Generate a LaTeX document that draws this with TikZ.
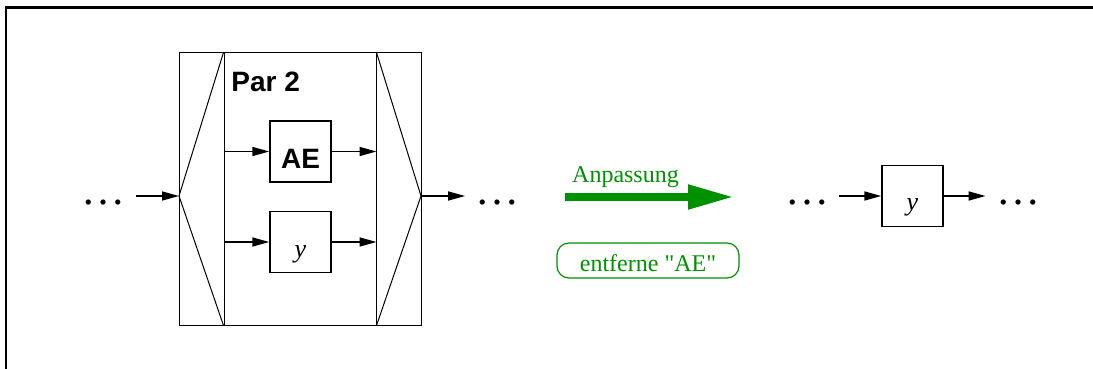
\documentclass[tikz,border=0pt]{standalone}
\usepackage{fontspec}
\setmainfont{Liberation Serif}
\setsansfont{Liberation Sans}
\usepackage{tikz}
\usetikzlibrary{arrows.meta,positioning,calc}
\definecolor{anpass}{RGB}{0,145,0}

\begin{document}
\begin{tikzpicture}[x=0.5pt,y=-0.5pt,
    blk/.style={draw,line width=0.7pt,minimum width=30.5pt,minimum height=30.5pt,inner sep=0pt},
    arr/.style={line width=0.8pt,-{Triangle[length=8.5pt,width=4.5pt]}},
    pkt/.style={font=\fontsize{22}{22}\selectfont,text height=9pt,text depth=0pt,
                inner xsep=5pt,inner ysep=0pt},
    fett/.style={font=\sffamily\bfseries\fontsize{14}{14}\selectfont}]
  \useasboundingbox (0,0) rectangle (1093,369);
  \draw[line width=1.2pt] (6,369) |- (1093,7.5);

  % Par-Block mit Verteiler und Sammler
  \node[draw,line width=0.5pt,minimum width=76pt,minimum height=136pt,inner sep=0pt] (par) at (300,189) {};
  \coordinate (split) at (179,196);
  \coordinate (join) at (421,196);
  \draw[line width=0.5pt] (par.north west) -- (par.north west -| split) -- (par.south west -| split) -- (par.south west);
  \draw[line width=0.5pt] (par.north west) -- (split) -- (par.south west);
  \draw[line width=0.5pt] (par.north east) -- (par.north east -| join) -- (par.south east -| join) -- (par.south east);
  \draw[line width=0.5pt] (par.north east) -- (join) -- (par.south east);
  \node[fett,anchor=base west,inner sep=0pt] (titel) at (231,92) {Par 2};

  \node[blk,fett,text height=17pt,text depth=0pt] (ae) at (300.5,151.5) {AE};
  \node[blk,font=\fontsize{13}{13}\selectfont,text height=18pt,text depth=3pt] (yp) at (300.5,242) {\textit{y}};
  \foreach \b in {ae,yp}{
    \draw[arr] (par.west |- \b) -- (\b);
    \draw[arr] (\b) -- (par.east |- \b);}

  \node[pkt] (dl) at (103.5,196) {…};
  \node[pkt] (dm) at (497.5,196) {…};
  \draw[arr] (dl) -- (split);
  \draw[arr] (join) -- (dm);

  % Anpassung
  \coordinate (anp-a) at (565,197);
  \coordinate (anp-b) at (734,197);
  \draw[anpass,line width=4pt,-{Triangle[length=23pt,width=11.5pt]}] (anp-a) -- (anp-b);
  \node[anpass,anchor=base,font=\fontsize{12}{12}\selectfont] (anp) at (625.5,183) {Anpassung};
  \node[draw=anpass,text=anpass,line width=0.6pt,rounded corners=6pt,minimum width=91pt,minimum height=17.5pt,
        inner sep=0pt,text height=11pt,text depth=0pt,font=\fontsize{12}{12}\selectfont] (weg) at (648,260.5)
        {entferne \textquotedbl AE\textquotedbl};

  % Ergebnis
  \node[pkt] (dr) at (807,196) {…};
  \node[blk,font=\fontsize{13}{13}\selectfont,text height=18pt,text depth=3pt] (yr) at (912.5,196) {\textit{y}};
  \node[pkt] (de) at (1018,196) {…};
  \draw[arr] (dr) -- (yr);
  \draw[arr] (yr) -- (de);
\end{tikzpicture}
\end{document}
